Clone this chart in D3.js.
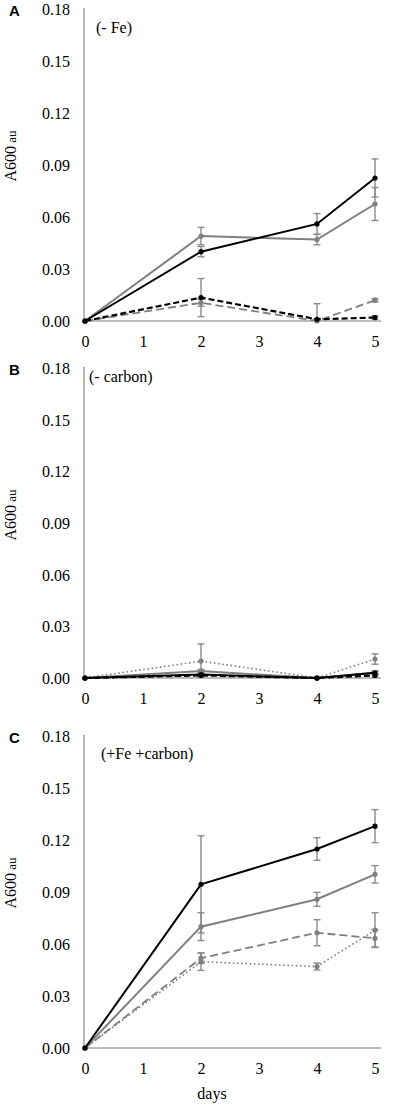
<!DOCTYPE html>
<html><head><meta charset="utf-8">
<script src="https://cdn.jsdelivr.net/npm/d3@7"></script>
<style>body{margin:0;background:#fff}svg{display:block}
.serif{font-family:"Liberation Serif"}</style>
</head><body>
<script>
const days = [0, 2, 4, 5];
const yTicks = [0, 0.03, 0.06, 0.09, 0.12, 0.15, 0.18];
const xTicks = [0, 1, 2, 3, 4, 5];
const panelLetters = ["A", "B", "C"];
const panelNotes = ["(- Fe)", "(- carbon)", "(+Fe +carbon)"];

// Panel A (- Fe)
const aBlackSolid = [0, 0.040, 0.056, 0.0825];
const aBlackSolidErr = [0, 0.003, 0.006, 0.011];
const aGraySolid = [0, 0.049, 0.047, 0.0675];
const aGraySolidErr = [0, 0.005, 0.003, 0.0095];
const aBlackDashed = [0, 0.0135, 0.001, 0.002];
const aBlackDashedErr = [0, 0.011, 0.009, 0.001];
const aGrayDashed = [0, 0.0105, 0, 0.012];
const aGrayDashedErr = [0, 0.002, 0.001, 0.001];

// Panel B (- carbon)
const bBlackSolid = [0, 0.002, 0, 0.003];
const bGraySolid = [0, 0.004, 0, 0.003];
const bBlackDashed = [0, 0.0015, 0, 0.0015];
const bGrayDotted = [0, 0.0098, 0, 0.011];
const bGrayDottedErr = [0, 0.010, 0, 0.003];
const bZeroErr = [0, 0.001, 0, 0.001];

// Panel C (+Fe +carbon)
const cBlackSolid = [0, 0.0944, 0.1148, 0.128];
const cBlackSolidErr = [0, 0.028, 0.0065, 0.0095];
const cGraySolid = [0, 0.070, 0.0858, 0.1002];
const cGraySolidErr = [0, 0.008, 0.004, 0.005];
const cGrayDashed = [0, 0.0518, 0.0665, 0.0633];
const cGrayDashedErr = [0, 0.003, 0.0075, 0.005];
const cGrayDotted = [0, 0.0498, 0.047, 0.068];
const cGrayDottedErr = [0, 0.005, 0.002, 0.010];

const BLACK = "#000", GRAY = "#7f7f7f", AXIS = "#a6a6a6", ERR = "#8a8a8a";
const styles = {
  blackSolid: {c: BLACK, w: 2, dash: null},
  graySolid: {c: GRAY, w: 2, dash: null},
  blackDashed: {c: BLACK, w: 2.2, dash: "6,3"},
  grayDashed: {c: GRAY, w: 1.8, dash: "8,4"},
  grayDotted: {c: GRAY, w: 1.6, dash: "1.6,2.6"}
};

const panels = [
  {top: 9, series: [
    {v: aGrayDashed, e: aGrayDashedErr, s: "grayDashed"},
    {v: aBlackDashed, e: aBlackDashedErr, s: "blackDashed"},
    {v: aGraySolid, e: aGraySolidErr, s: "graySolid"},
    {v: aBlackSolid, e: aBlackSolidErr, s: "blackSolid"}]},
  {top: 368, bottom: 678, series: [
    {v: bGrayDotted, e: bGrayDottedErr, s: "grayDotted"},
    {v: bGraySolid, e: bZeroErr, s: "graySolid"},
    {v: bBlackSolid, e: bZeroErr, s: "blackSolid"},
    {v: bBlackDashed, e: bZeroErr, s: "blackDashed"}]},
  {top: 736, series: [
    {v: cGrayDotted, e: cGrayDottedErr, s: "grayDotted"},
    {v: cGrayDashed, e: cGrayDashedErr, s: "grayDashed"},
    {v: cGraySolid, e: cGraySolidErr, s: "graySolid"},
    {v: cBlackSolid, e: cBlackSolidErr, s: "blackSolid"}]}
];
const noteOffsets = [[96, 18], [89, 8], [101, 17]];

const svg = d3.select("body").append("svg").attr("width", 397).attr("height", 1105);
const defs = svg.append("defs");
const x = d3.scaleLinear().domain([0, 5]).range([85, 375]);

panels.forEach((p, i) => {
  const bottom = p.bottom || (p.top + 312);
  const y = d3.scaleLinear().domain([0, 0.18]).range([bottom, p.top]);
  const g = svg.append("g");

  defs.append("clipPath").attr("id", "clip" + i).append("rect")
    .attr("x", 70).attr("y", p.top - 5).attr("width", 327).attr("height", bottom - p.top + 5);

  // y axis
  const ya = g.append("g").attr("transform", "translate(84,0)")
    .call(d3.axisLeft(y).tickValues(yTicks).tickFormat(d3.format(".2f")).tickSize(0).tickPadding(14));
  ya.attr("font-family", null).attr("font-size", null).attr("class", "serif");
  ya.select(".domain").attr("stroke", AXIS).attr("stroke-width", 1.6).attr("d", `M0,${p.top - 1}V${bottom}`);
  ya.selectAll("text").attr("font-size", 16).attr("fill", "#000").attr("dy", "0.35em");

  // x axis
  const xa = g.append("g").attr("transform", `translate(0,${bottom})`)
    .call(d3.axisBottom(x).tickValues(xTicks).tickFormat(d3.format("d")).tickSize(0).tickPadding(14));
  xa.attr("font-family", null).attr("font-size", null).attr("class", "serif");
  xa.select(".domain").attr("stroke", AXIS).attr("stroke-width", 1.6).attr("d", `M84,0H381`);
  xa.selectAll("text").attr("font-size", 16).attr("fill", "#000").attr("dy", "0.35em").attr("y", 20);

  // y label
  const lab = g.append("text").attr("class", "serif").attr("transform", `translate(16,${p.top + 147}) rotate(-90)`)
    .attr("text-anchor", "middle").attr("font-size", 16).attr("fill", "#000");
  lab.append("tspan").text("A600");
  lab.append("tspan").attr("font-size", 13).text(" au");

  // panel letter
  g.append("text").attr("x", 9).attr("y", p.top + 7).style("font-family", "'Liberation Sans'")
    .attr("font-weight", "bold").attr("font-size", 15).attr("fill", "#000").text(panelLetters[i]);

  // note
  g.append("text").attr("class", "serif").attr("x", noteOffsets[i][0]).attr("y", p.top + noteOffsets[i][1]).attr("dy", "0.35em")
    .attr("font-size", 16).attr("fill", "#000").text(panelNotes[i]);

  const plot = g.append("g").attr("clip-path", `url(#clip${i})`);
  const line = d3.line().x((d, j) => x(days[j])).y(d => y(d));
  p.series.forEach(sr => {
    sr.v.forEach((d, j) => {
      const e = sr.e[j];
      if (!e) return;
      const cx = x(days[j]);
      const eg = plot.append("g").attr("stroke", ERR).attr("stroke-width", 1.4);
      eg.append("line").attr("x1", cx).attr("x2", cx).attr("y1", y(d - e)).attr("y2", y(d + e));
      eg.append("line").attr("x1", cx - 3.5).attr("x2", cx + 3.5).attr("y1", y(d - e)).attr("y2", y(d - e));
      eg.append("line").attr("x1", cx - 3.5).attr("x2", cx + 3.5).attr("y1", y(d + e)).attr("y2", y(d + e));
    });
  });
  p.series.forEach(sr => {
    const st = styles[sr.s];
    g.append("path").datum(sr.v).attr("d", line).attr("fill", "none")
      .attr("stroke", st.c).attr("stroke-width", st.w).attr("stroke-dasharray", st.dash);
    g.selectAll(null).data(sr.v).enter().append("circle")
      .attr("cx", (d, j) => x(days[j])).attr("cy", d => y(d)).attr("r", 2.6).attr("fill", st.c);
  });

  if (i === 2) {
    g.append("text").attr("class", "serif").attr("x", 212).attr("y", 1093).attr("dy", "0.35em").attr("text-anchor", "middle")
      .attr("font-size", 16).attr("fill", "#000").text("days");
  }
});
</script>
</body></html>
